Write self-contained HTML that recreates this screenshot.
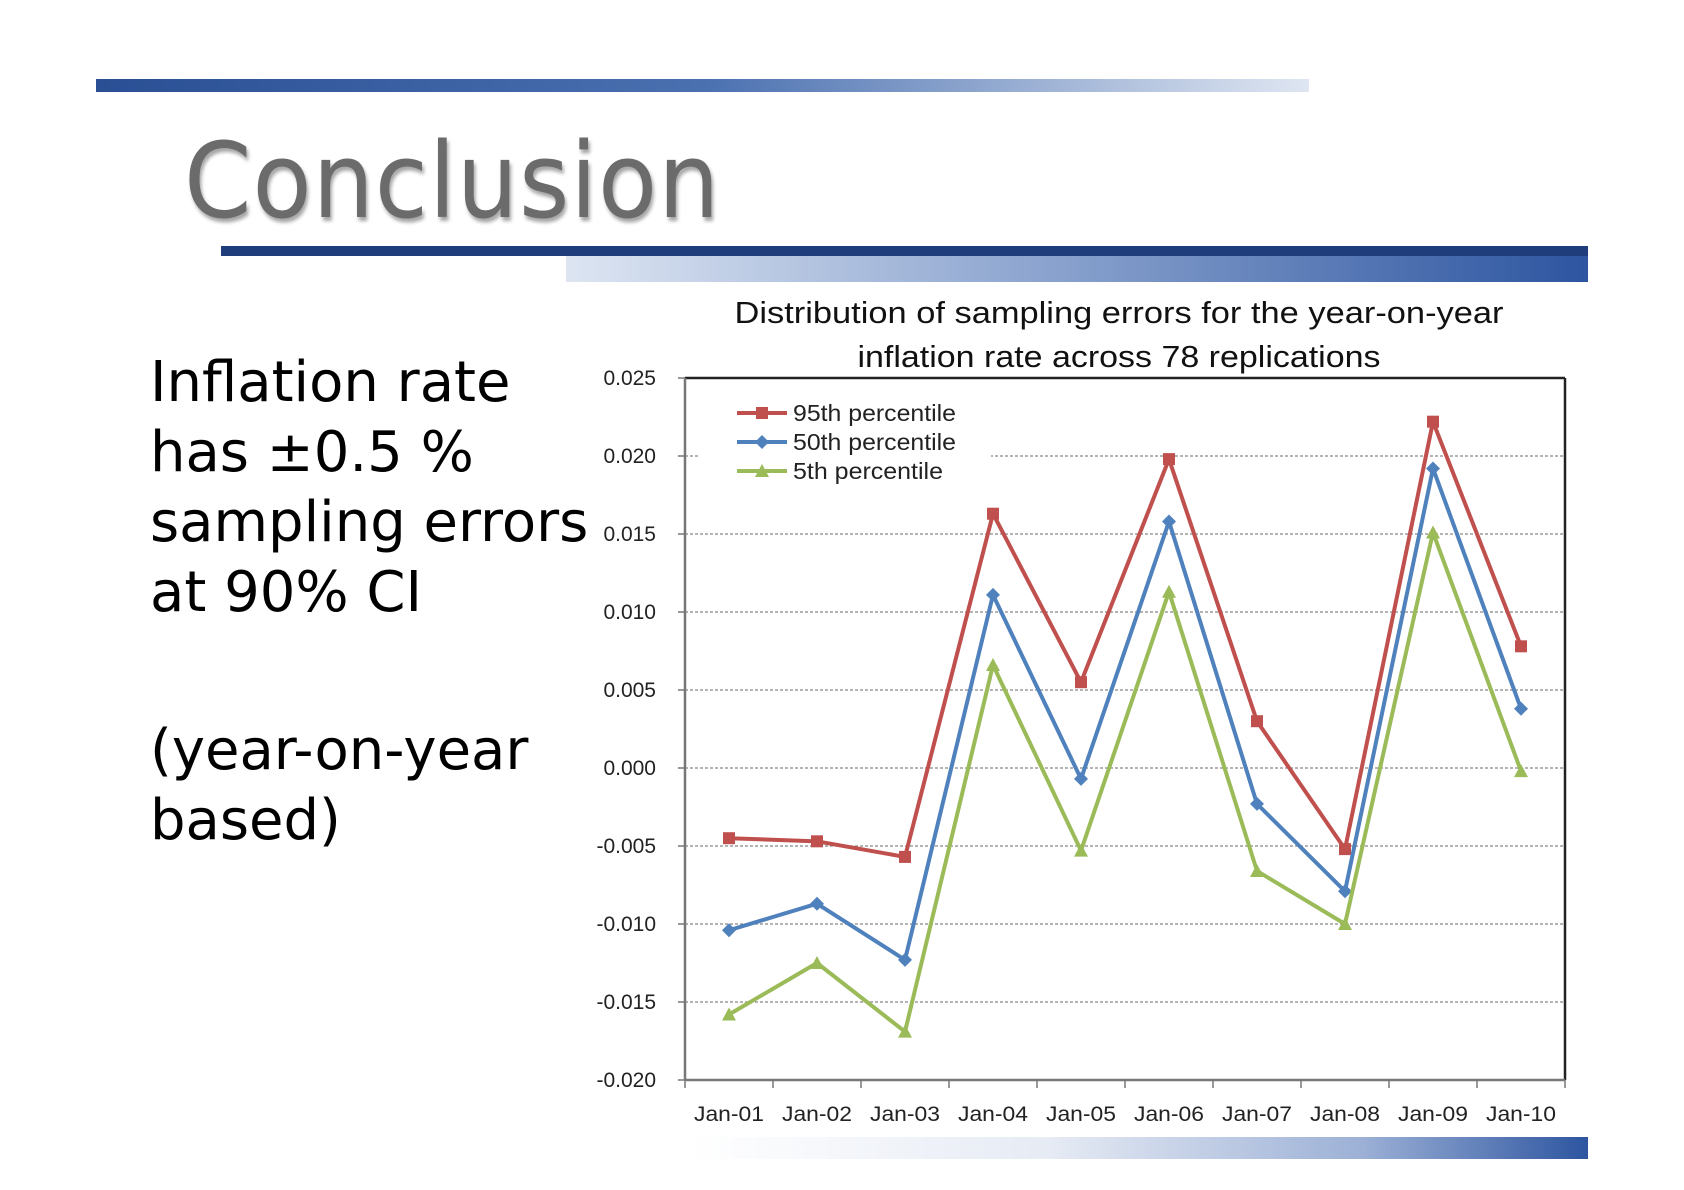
<!DOCTYPE html>
<html><head><meta charset="utf-8"><style>
body{margin:0;background:#fff;}
#root{position:relative;width:1684px;height:1190px;overflow:hidden;background:#fff;font-family:"Liberation Sans","DejaVu Sans",sans-serif;}
.bar{position:absolute;}
#title{position:absolute;left:184px;top:120px;font-size:104px;color:#6b6b6b;font-family:"DejaVu Sans","Liberation Sans",sans-serif;letter-spacing:1px;text-shadow:2px 4px 4px rgba(0,0,0,0.35);transform:scaleX(0.93);transform-origin:left top;}
.lt{position:absolute;left:150px;font-size:56px;line-height:70px;color:#000;font-family:"DejaVu Sans","Liberation Sans",sans-serif;white-space:nowrap;}
</style></head><body>
<div id="root">
<div class="bar" style="left:96px;top:79px;width:1213px;height:13px;background:linear-gradient(90deg,#2a4f94,#4a70b0 50%,#dfe6f2);"></div>
<div id="title">Conclusion</div>
<div class="bar" style="left:221px;top:246px;width:1367px;height:10px;background:#1f3d7a;"></div>
<div class="bar" style="left:566px;top:256px;width:1022px;height:26px;background:linear-gradient(90deg,#dde5f2,#8ea6d0 45%,#2d55a0);"></div>
<div class="bar" style="left:690px;top:1137px;width:898px;height:22px;background:linear-gradient(90deg,#fff,#e6ebf4 40%,#9cb0d6 75%,#2d55a0);"></div>
<div class="lt" style="top:348px;">Inflation rate<br>has ±0.5 %<br>sampling errors<br>at 90% CI</div>
<div class="lt" style="top:716px;">(year-on-year<br>based)</div>
<svg id="chart" width="1684" height="1190" style="position:absolute;left:0;top:0"></svg>
</div>
<script>
const categories=["Jan-01","Jan-02","Jan-03","Jan-04","Jan-05","Jan-06","Jan-07","Jan-08","Jan-09","Jan-10"];
const p95=[-0.0045,-0.0047,-0.0057,0.0163,0.0055,0.0198,0.0030,-0.0052,0.0222,0.0078];
const p50=[-0.0104,-0.0087,-0.0123,0.0111,-0.0007,0.0158,-0.0023,-0.0079,0.0192,0.0038];
const p5=[-0.0158,-0.0125,-0.0169,0.0066,-0.0053,0.0113,-0.0066,-0.0100,0.0151,-0.0002];
const yTicks=[0.025,0.020,0.015,0.010,0.005,0.000,-0.005,-0.010,-0.015,-0.020];
const seriesNames=["95th percentile","50th percentile","5th percentile"];

const NS="http://www.w3.org/2000/svg";
const svg=document.getElementById('chart');
const L=685,R=1565,T=378,B=1080,ymin=-0.020,ymax=0.025;
const y=v=>B-(v-ymin)/(ymax-ymin)*(B-T);
const band=(R-L)/categories.length;
const x=i=>L+band*(i+0.5);
function mk(tag,attrs){const e=document.createElementNS(NS,tag);for(const k in attrs)e.setAttribute(k,attrs[k]);svg.appendChild(e);return e;}

let t=mk('text',{x:1119,y:323,'text-anchor':'middle','font-size':31,fill:'#111','font-family':'Liberation Sans, sans-serif',textLength:769,lengthAdjust:'spacingAndGlyphs'});t.textContent="Distribution of sampling errors for the year-on-year";


t=mk('text',{x:1119,y:367,'text-anchor':'middle','font-size':31,fill:'#111','font-family':'Liberation Sans, sans-serif',textLength:523,lengthAdjust:'spacingAndGlyphs'});t.textContent="inflation rate across 78 replications";



yTicks.forEach(v=>{
  const g=mk('line',{x1:L,x2:R,y1:y(v),y2:y(v),stroke:'#888','stroke-width':1.2,'stroke-dasharray':'3,2'});
  
  
  mk('line',{x1:L-7,x2:L,y1:y(v),y2:y(v),stroke:'#777','stroke-width':1.5});
  const tx=mk('text',{x:656,y:y(v)+7,'text-anchor':'end','font-size':21,fill:'#222','font-family':'Liberation Sans, sans-serif'});
  tx.textContent=v.toFixed(3);
  
  
});
mk('rect',{x:700,y:393,width:291,height:95,fill:'#fff'});
mk('line',{x1:L,x2:R,y1:T,y2:T,stroke:'#222','stroke-width':2.5});
mk('line',{x1:R,x2:R,y1:T,y2:B,stroke:'#222','stroke-width':2.5});
mk('line',{x1:L,x2:L,y1:T,y2:B,stroke:'#777','stroke-width':2.5});
mk('line',{x1:L,x2:R,y1:B,y2:B,stroke:'#777','stroke-width':2.5});
for(let i=0;i<=categories.length;i++){mk('line',{x1:L+band*i,x2:L+band*i,y1:B,y2:B+8,stroke:'#777','stroke-width':1.5});}
categories.forEach((c,i)=>{
  const tx=mk('text',{x:x(i),y:1121,'text-anchor':'middle','font-size':21,fill:'#222','font-family':'Liberation Sans, sans-serif',textLength:70,lengthAdjust:'spacingAndGlyphs'});
  tx.textContent=c;
  
  
});
const colors=['#c0504d','#4f81bd','#9bbb59'];
const datas=[p95,p50,p5];
const legendLens=[163,163,150];
function marker(k,cx,cy,col){
  if(k===0) return mk('rect',{x:cx-6,y:cy-6,width:12,height:12,fill:col});
  if(k===1) return mk('polygon',{points:`${cx},${cy-7} ${cx+7},${cy} ${cx},${cy+7} ${cx-7},${cy}`,fill:col});
  return mk('polygon',{points:`${cx},${cy-7} ${cx+7},${cy+6} ${cx-7},${cy+6}`,fill:col});
}
datas.forEach((d,k)=>{
  const p=mk('polyline',{points:d.map((v,i)=>x(i)+','+y(v)).join(' '),fill:'none',stroke:colors[k],'stroke-width':4,'stroke-linejoin':'round'});
  
  
  d.forEach((v,i)=>{
    const m=marker(k,x(i),y(v),colors[k]);
    
    
  });
  const ly=413+k*29;
  mk('line',{x1:737,x2:787,y1:ly,y2:ly,stroke:colors[k],'stroke-width':4});
  marker(k,762,ly,colors[k]);
  const lt=mk('text',{x:793,y:ly+8,'font-size':23,fill:'#222','font-family':'Liberation Sans, sans-serif',textLength:legendLens[k],lengthAdjust:'spacingAndGlyphs'});
  lt.textContent=seriesNames[k];
  
  
});
</script>
</body></html>
